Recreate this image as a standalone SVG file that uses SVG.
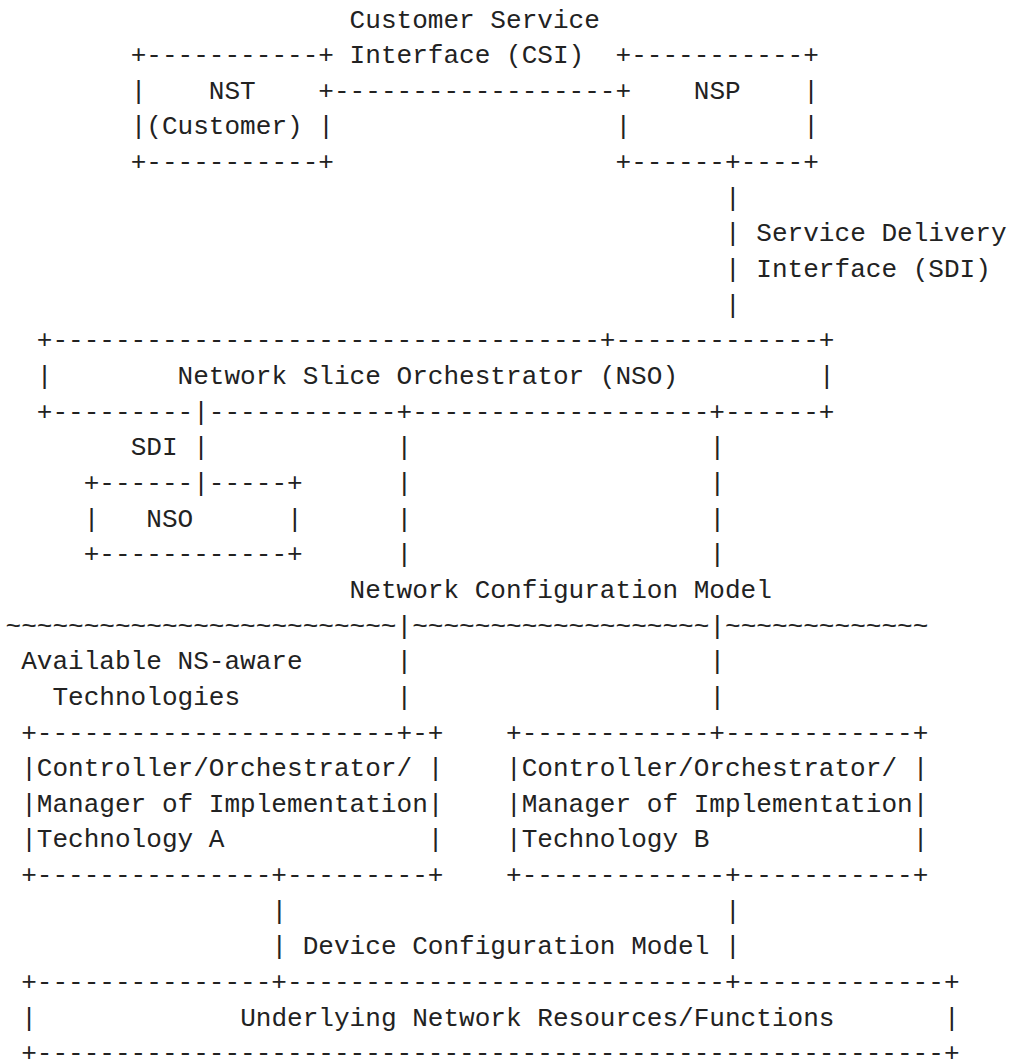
<svg xmlns="http://www.w3.org/2000/svg" width="1010" height="1059" viewBox="0 0 1010 1059">
<style>
.t{font-family:"Liberation Mono","DejaVu Sans Mono",monospace;font-size:26.07px;fill:#222}
</style>
<rect width="1010" height="1059" fill="#fff"/>
<g id="nst" class="t">
<text x="130.64" y="63.15">+-----------+</text>
<text x="130.64" y="98.8">|</text><text x="208.85" y="98.8">NST</text><text x="318.34" y="98.8">+</text>
<text x="130.64" y="134.45">|(Customer)</text><text x="318.34" y="134.45">|</text>
<text x="130.64" y="170.1">+-----------+</text>
</g>
<g id="nsp" class="t">
<text x="615.54" y="63.15">+-----------+</text>
<text x="615.54" y="98.8">+</text><text x="693.75" y="98.8">NSP</text><text x="803.24" y="98.8">|</text>
<text x="615.54" y="134.45">|</text><text x="803.24" y="134.45">|</text>
<text x="615.54" y="170.1">+------+----+</text>
</g>
<g id="nso" class="t">
<text x="36.78" y="348.35">+-----------------------------------+-------------+</text>
<text x="36.78" y="384.0">|</text><text x="177.56" y="384.0">Network Slice Orchestrator (NSO)</text><text x="818.88" y="384.0">|</text>
<text x="36.78" y="419.65">+---------|------------+-------------------+------+</text>
</g>
<g id="nso-child" class="t">
<text x="83.71" y="490.95">+------|-----+</text>
<text x="83.71" y="526.6">|</text><text x="146.28" y="526.6">NSO</text><text x="287.06" y="526.6">|</text>
<text x="83.71" y="562.25">+------------+</text>
</g>
<g id="boundary" class="t">
<text x="5.5" y="633.55">~~~~~~~~~~~~~~~~~~~~~~~~~</text>
<text x="412.19" y="633.55">~~~~~~~~~~~~~~~~~~~</text>
<text x="725.03" y="633.55">~~~~~~~~~~~~~</text>
<text x="21.14" y="669.2">Available NS-aware</text>
<text x="52.43" y="704.85">Technologies</text>
</g>
<g id="tech-a" class="t">
<text x="21.14" y="740.5">+-----------------------+-+</text>
<text x="21.14" y="776.15">|Controller/Orchestrator/</text><text x="427.83" y="776.15">|</text>
<text x="21.14" y="811.8">|Manager of Implementation|</text>
<text x="21.14" y="847.45">|Technology A</text><text x="427.83" y="847.45">|</text>
<text x="21.14" y="883.1">+---------------+---------+</text>
</g>
<g id="tech-b" class="t">
<text x="506.04" y="740.5">+------------+------------+</text>
<text x="506.04" y="776.15">|Controller/Orchestrator/</text><text x="912.74" y="776.15">|</text>
<text x="506.04" y="811.8">|Manager of Implementation|</text>
<text x="506.04" y="847.45">|Technology B</text><text x="912.74" y="847.45">|</text>
<text x="506.04" y="883.1">+-------------+-----------+</text>
</g>
<g id="resources" class="t">
<text x="21.14" y="990.05">+---------------+----------------------------+-------------+</text>
<text x="21.14" y="1025.7">|</text><text x="240.13" y="1025.7">Underlying Network Resources/Functions</text><text x="944.02" y="1025.7">|</text>
<text x="21.14" y="1061.35">+----------------------------------------------------------+</text>
</g>
<g id="connectors" class="t">
<text x="349.62" y="27.5">Customer Service</text>
<text x="349.62" y="63.15">Interface (CSI)</text>
<text x="333.98" y="98.8">------------------</text>
<text x="725.03" y="205.75">|</text>
<text x="725.03" y="241.4">| Service Delivery</text>
<text x="725.03" y="277.05">| Interface (SDI)</text>
<text x="725.03" y="312.7">|</text>
<text x="130.64" y="455.3">SDI |</text>
<text x="396.55" y="455.3">|</text><text x="709.39" y="455.3">|</text>
<text x="396.55" y="490.95">|</text><text x="709.39" y="490.95">|</text>
<text x="396.55" y="526.6">|</text><text x="709.39" y="526.6">|</text>
<text x="396.55" y="562.25">|</text><text x="709.39" y="562.25">|</text>
<text x="349.62" y="597.9">Network Configuration Model</text>
<text x="396.55" y="633.55">|</text><text x="709.39" y="633.55">|</text>
<text x="396.55" y="669.2">|</text><text x="709.39" y="669.2">|</text>
<text x="396.55" y="704.85">|</text><text x="709.39" y="704.85">|</text>
<text x="271.41" y="918.75">|</text><text x="725.03" y="918.75">|</text>
<text x="271.41" y="954.4">| Device Configuration Model |</text>
</g>
</svg>
